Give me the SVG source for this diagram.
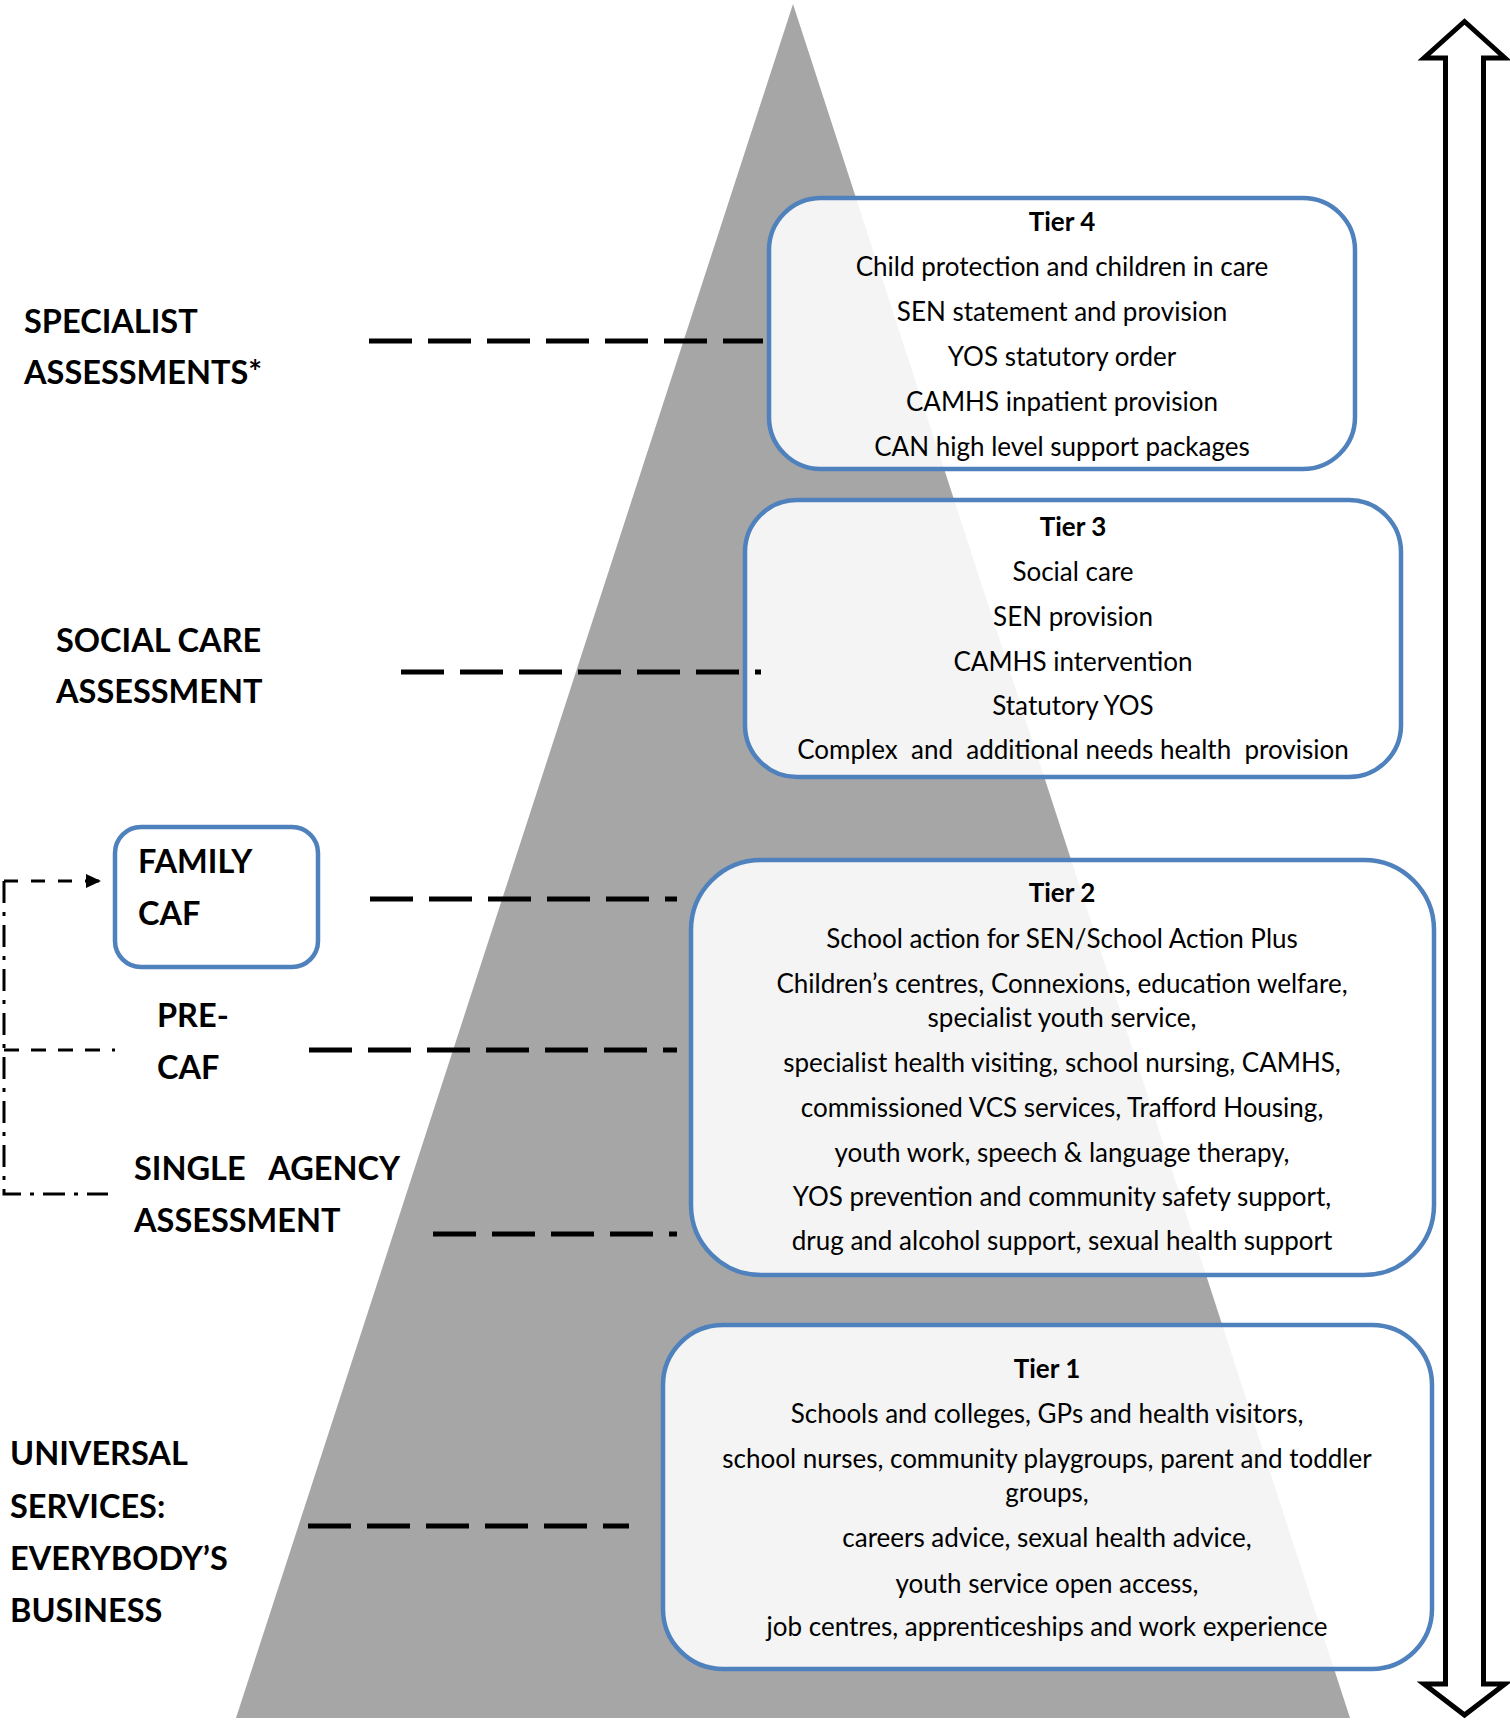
<svg xmlns="http://www.w3.org/2000/svg" width="1510" height="1721" viewBox="0 0 1510 1721">
<defs>
<style>
.box{fill:#ffffff;fill-opacity:0.88;stroke:#4f81bd;stroke-width:4.5}
.t{font-family:Lato,"Open Sans","Liberation Sans",sans-serif;font-size:26px;fill:#000;text-anchor:middle;white-space:pre}
.th{font-family:Lato,"Open Sans","Liberation Sans",sans-serif;font-size:26px;font-weight:bold;fill:#000;text-anchor:middle}
.lb{font-family:Lato,"Open Sans","Liberation Sans",sans-serif;font-size:32.5px;font-weight:bold;fill:#000;white-space:pre}
.lvl{stroke:#000;stroke-width:5;stroke-dasharray:43 16;fill:none}
.thin{stroke:#000;stroke-width:3;fill:none}
</style>
<marker id="ah" markerWidth="16" markerHeight="14" refX="15" refY="7" orient="auto" markerUnits="userSpaceOnUse">
<path d="M0,0 L15,7 L0,14 Z" fill="#000"/>
</marker>
</defs>
<rect width="1510" height="1721" fill="#ffffff"/>
<g id="pyramid">
<polygon points="793,4 1350,1718 236,1718" fill="#a6a6a6"/>
</g>
<g id="scale-arrow">
<polygon points="1464.5,21.5 1505,58 1483.5,58 1483.5,1684 1505,1684 1464.5,1715 1424,1684 1445.5,1684 1445.5,58 1424,58" fill="#ffffff" stroke="#000" stroke-width="5" stroke-linejoin="miter"/>
</g>
<g id="tier4">
<rect class="box" x="769" y="198" width="586" height="271" rx="52"/>
<text class="th" x="1062" y="231">Tier 4</text>
<text class="t" x="1062" y="276">Child protection and children in care</text>
<text class="t" x="1062" y="321">SEN statement and provision</text>
<text class="t" x="1062" y="366">YOS statutory order</text>
<text class="t" x="1062" y="411">CAMHS inpatient provision</text>
<text class="t" x="1062" y="456">CAN high level support packages</text>
</g>
<g id="tier3">
<rect class="box" x="745" y="500" width="656" height="277" rx="52"/>
<text class="th" x="1073" y="536">Tier 3</text>
<text class="t" x="1073" y="581">Social care</text>
<text class="t" x="1073" y="626">SEN provision</text>
<text class="t" x="1073" y="671">CAMHS intervention</text>
<text class="t" x="1073" y="715">Statutory YOS</text>
<text class="t" x="1073" y="759">Complex  and  additional needs health  provision</text>
</g>
<g id="tier2">
<rect class="box" x="691" y="860" width="743" height="415" rx="70"/>
<text class="th" x="1062" y="902">Tier 2</text>
<text class="t" x="1062" y="948">School action for SEN/School Action Plus</text>
<text class="t" x="1062" y="993">Children’s centres, Connexions, education welfare,</text>
<text class="t" x="1062" y="1027">specialist youth service,</text>
<text class="t" x="1062" y="1072">specialist health visiting, school nursing, CAMHS,</text>
<text class="t" x="1062" y="1117">commissioned VCS services, Trafford Housing,</text>
<text class="t" x="1062" y="1162">youth work, speech &amp; language therapy,</text>
<text class="t" x="1062" y="1206">YOS prevention and community safety support,</text>
<text class="t" x="1062" y="1250">drug and alcohol support, sexual health support</text>
</g>
<g id="tier1">
<rect class="box" x="663" y="1325" width="769" height="344" rx="60"/>
<text class="th" x="1047" y="1378">Tier 1</text>
<text class="t" x="1047" y="1423">Schools and colleges, GPs and health visitors,</text>
<text class="t" x="1047" y="1468">school nurses, community playgroups, parent and toddler</text>
<text class="t" x="1047" y="1502">groups,</text>
<text class="t" x="1047" y="1547">careers advice, sexual health advice,</text>
<text class="t" x="1047" y="1593">youth service open access,</text>
<text class="t" x="1047" y="1636">job centres, apprenticeships and work experience</text>
</g>
<g id="label-specialist">
<text class="lb" x="24" y="333">SPECIALIST</text>
<text class="lb" x="24" y="384">ASSESSMENTS*</text>
</g>
<g id="label-social-care">
<text class="lb" x="56" y="652">SOCIAL CARE</text>
<text class="lb" x="56" y="703">ASSESSMENT</text>
</g>
<g id="family-caf">
<rect x="115" y="827" width="203" height="140" rx="26" fill="#ffffff" stroke="#4f81bd" stroke-width="4.5"/>
<text class="lb" x="138" y="873">FAMILY</text>
<text class="lb" x="138" y="925">CAF</text>
</g>
<g id="label-pre-caf">
<text class="lb" x="157" y="1027">PRE-</text>
<text class="lb" x="157" y="1079">CAF</text>
</g>
<g id="label-single-agency">
<text class="lb" x="134" y="1180">SINGLE   AGENCY</text>
<text class="lb" x="134" y="1232">ASSESSMENT</text>
</g>
<g id="label-universal">
<text class="lb" x="10" y="1465">UNIVERSAL</text>
<text class="lb" x="10" y="1518">SERVICES:</text>
<text class="lb" x="10" y="1570">EVERYBODY’S</text>
<text class="lb" x="10" y="1622">BUSINESS</text>
</g>
<g id="connectors">
<line class="lvl" x1="369" y1="341" x2="763" y2="341"/>
<line class="lvl" x1="401" y1="672" x2="761" y2="672"/>
<line class="lvl" x1="370" y1="899" x2="677" y2="899"/>
<line class="lvl" x1="309" y1="1050" x2="677" y2="1050"/>
<line class="lvl" x1="433" y1="1234" x2="677" y2="1234"/>
<line class="lvl" x1="308" y1="1526" x2="629" y2="1526"/>
<path class="thin" d="M4,881 H101" stroke-dasharray="14 13" marker-end="url(#ah)"/>
<path class="thin" d="M4,881 V1194 H108" stroke-dasharray="22 9 4 9"/>
<path class="thin" d="M4,1050 H115" stroke-dasharray="15 12"/>
</g>
</svg>
